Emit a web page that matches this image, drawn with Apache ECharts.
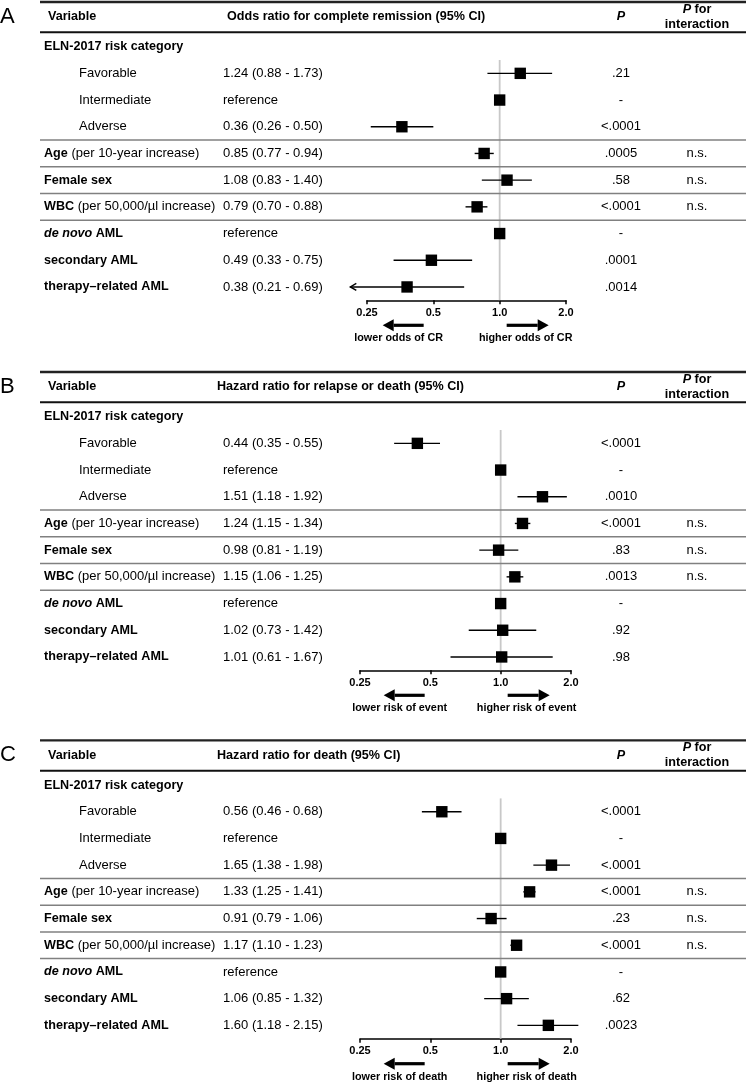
<!DOCTYPE html>
<html><head><meta charset="utf-8">
<script src="https://cdn.jsdelivr.net/npm/echarts@6/dist/echarts.min.js"></script>
<style>html,body{margin:0;padding:0;background:#fff}#c{width:746px;height:1082px}</style>
</head><body><div id="c"></div>
<script>
// ---------------- data ----------------
const rowKeys = ['eln','fav','int','adv','age','sex','wbc','denovo','sec','tr'];
const varLabels = [
  '{b|ELN-2017 risk category}',
  '{n|Favorable}',
  '{n|Intermediate}',
  '{n|Adverse}',
  '{b|Age}{n| (per 10-year increase)}',
  '{b|Female sex}',
  '{b|WBC}{n| (per 50,000/µl increase)}',
  '{bi|de novo}{b| AML}',
  '{b|secondary AML}',
  '{b|therapy–related AML}'
];
const indentedRows = [1, 2, 3];
const separatorAfterRows = [3, 4, 5, 6];

const estA  = [null, 1.24, 1.00, 0.36, 0.85, 1.08, 0.79, 1.00, 0.49, 0.38];
const lowA  = [null, 0.88, null, 0.26, 0.77, 0.83, 0.70, null, 0.33, 0.21];
const highA = [null, 1.73, null, 0.50, 0.94, 1.40, 0.88, null, 0.75, 0.69];
const pA    = ['', '.21', '-', '<.0001', '.0005', '.58', '<.0001', '-', '.0001', '.0014'];

const estB  = [null, 0.44, 1.00, 1.51, 1.24, 0.98, 1.15, 1.00, 1.02, 1.01];
const lowB  = [null, 0.35, null, 1.18, 1.15, 0.81, 1.06, null, 0.73, 0.61];
const highB = [null, 0.55, null, 1.92, 1.34, 1.19, 1.25, null, 1.42, 1.67];
const pB    = ['', '<.0001', '-', '.0010', '<.0001', '.83', '.0013', '-', '.92', '.98'];

const estC  = [null, 0.56, 1.00, 1.65, 1.33, 0.91, 1.17, 1.00, 1.06, 1.60];
const lowC  = [null, 0.46, null, 1.38, 1.25, 0.79, 1.10, null, 0.85, 1.18];
const highC = [null, 0.68, null, 1.98, 1.41, 1.06, 1.23, null, 1.32, 2.15];
const pC    = ['', '<.0001', '-', '<.0001', '<.0001', '.23', '<.0001', '-', '.62', '.0023'];

const interaction = ['', '', '', '', 'n.s.', 'n.s.', 'n.s.', '', '', ''];

const panelLetters = ['A', 'B', 'C'];
const effectHeaders = [
  'Odds ratio for complete remission (95% CI)',
  'Hazard ratio for relapse or death (95% CI)',
  'Hazard ratio for death (95% CI)'
];
const lowerLabels = ['lower odds of CR', 'lower risk of event', 'lower risk of death'];
const higherLabels = ['higher odds of CR', 'higher risk of event', 'higher risk of death'];

const tickValues = [0.25, 0.5, 1, 2];
const tickLabels = ['0.25', '0.5', '1.0', '2.0'];

// ---------------- layout ----------------
const FF = '"Liberation Sans", Arial, Helvetica, sans-serif';
const panelData = [
  {est: estA, low: lowA, high: highA, p: pA},
  {est: estB, low: lowB, high: highB, p: pB},
  {est: estC, low: lowC, high: highC, p: pC}
];
const grids = [
  {left: 367, width: 199, top: 33.3, height: 267},
  {left: 360, width: 211, top: 403.3, height: 267},
  {left: 360, width: 211, top: 771.7, height: 267}
];
const headerX = [227, 217, 217];
const X_VAR = 44, X_VAR_IND = 79, X_HEAD_VAR = 48, X_CI = 223, X_P = 621, X_INT = 697;
const LINE_L = 40, LINE_R = 746;

const RICH = {
  b:  {fontWeight: 'bold', fontSize: 12.6, fontFamily: FF, fill: '#000'},
  n:  {fontWeight: 'normal', fontSize: 13, fontFamily: FF, fill: '#000'},
  bi: {fontWeight: 'bold', fontStyle: 'italic', fontSize: 12.6, fontFamily: FF, fill: '#000'}
};

function txt(text, x, y, align, extra) {
  return {type: 'text', style: Object.assign({
    text: text, x: x, y: y, align: align || 'left', verticalAlign: 'middle',
    fontSize: 13, fontFamily: FF, fill: '#000', rich: RICH
  }, extra || {})};
}
function seg(x1, y1, x2, y2, color, w) {
  return {type: 'line', shape: {x1, y1, x2, y2}, style: {stroke: color, lineWidth: w}};
}
function fmtCI(e, l, h) {
  if (l == null) return 'reference';
  return e.toFixed(2) + ' (' + l.toFixed(2) + ' - ' + h.toFixed(2) + ')';
}

function rowRender(pi) {
  const D = panelData[pi];
  return function (params, api) {
    const i = params.dataIndex;
    const y = api.coord([1, i])[1];
    const bw = api.size([1, 1])[1];
    const ch = [];
    const indented = indentedRows.indexOf(i) >= 0;
    ch.push(txt(varLabels[i], indented ? X_VAR_IND : X_VAR, y, 'left'));
    if (D.est[i] != null) {
      ch.push(txt(fmtCI(D.est[i], D.low[i], D.high[i]), X_CI, y, 'left'));
    }
    if (D.p[i]) ch.push(txt(D.p[i], X_P, y, 'center'));
    if (interaction[i]) ch.push(txt(interaction[i], X_INT, y, 'center'));
    if (separatorAfterRows.indexOf(i) >= 0) {
      ch.push(seg(LINE_L, y + bw / 2, LINE_R, y + bw / 2, '#808080', 1.5));
    }
    if (D.low[i] != null) {
      const xl = api.coord([D.low[i], i])[0];
      const xh = api.coord([D.high[i], i])[0];
      ch.push(seg(xl, y, xh, y, '#000', 1.4));
      if (D.low[i] < tickValues[0]) {
        ch.push({type: 'polyline', shape: {points: [[xl + 6, y - 3.5], [xl, y], [xl + 6, y + 3.5]]},
                 style: {stroke: '#000', lineWidth: 1.4, fill: null}});
      }
    }
    if (D.est[i] != null) {
      const xe = api.coord([D.est[i], i])[0];
      ch.push({type: 'rect', shape: {x: xe - 5.7, y: y - 5.7, width: 11.4, height: 11.4}, style: {fill: '#000'}});
    }
    return {type: 'group', children: ch};
  };
}

function panelRender(pi) {
  return function (params, api) {
    const bw = api.size([1, 1])[1];
    const top = api.coord([1, 0])[1] - bw / 2;
    const bottom = api.coord([1, rowKeys.length - 1])[1] + bw / 2;
    const refX = api.coord([1, 0])[0];
    const hy = top - 16.4;
    const ch = [];
    // reference line at ratio 1
    ch.push(seg(refX, api.coord([1, 1])[1] - bw / 2, refX, bottom, '#c8c8c8', 1.8));
    // table rules
    ch.push(seg(LINE_L, top - 31.3, LINE_R, top - 31.3, '#222', 2.4));
    ch.push(seg(LINE_L, top - 1, LINE_R, top - 1, '#111', 2));
    // header
    ch.push(txt(panelLetters[pi], 0, hy, 'left', {fontSize: 22, fontWeight: 'normal', rich: null}));
    ch.push(txt('{b|Variable}', X_HEAD_VAR, hy, 'left'));
    ch.push(txt('{b|' + effectHeaders[pi] + '}', headerX[pi], hy, 'left'));
    ch.push(txt('{bi|P}', X_P, hy, 'center'));
    ch.push(txt('{bi|P}{b| for}', X_INT, hy - 7.3, 'center'));
    ch.push(txt('{b|interaction}', X_INT, hy + 7.3, 'center'));
    // direction arrows
    const ay = bottom + 25;
    const arrow = (tail, tip) => {
      const d = tip > tail ? 1 : -1;
      const base = tip - d * 11;
      return [
        seg(tail, ay, base, ay, '#000', 3.2),
        {type: 'polygon', shape: {points: [[tip, ay], [base, ay - 6], [base, ay + 6]]}, style: {fill: '#000'}}
      ];
    };
    ch.push(...arrow(refX - 76, refX - 117));
    ch.push(...arrow(refX + 7, refX + 49));
    const ly = bottom + 38;
    const lblStyle = {fontSize: 10.8, fontWeight: 'bold', rich: null};
    ch.push(txt(lowerLabels[pi], refX - 101, ly, 'center', lblStyle));
    ch.push(txt(higherLabels[pi], refX + 26, ly, 'center', lblStyle));
    return {type: 'group', children: ch};
  };
}

const option = {
  animation: false,
  backgroundColor: '#fff',
  grid: grids.map(g => Object.assign({containLabel: false}, g)),
  xAxis: grids.map((g, gi) => ({
    gridIndex: gi, type: 'log', logBase: 2, position: 'bottom',
    min: tickValues[0], max: tickValues[tickValues.length - 1],
    axisLine: {show: true, onZero: false, lineStyle: {color: '#000', width: 1.5}},
    axisTick: {show: true, length: 4, lineStyle: {color: '#000', width: 1.5}},
    splitLine: {show: false},
    minorTick: {show: false},
    axisLabel: {
      margin: 7, fontSize: 11, fontWeight: 'bold', fontFamily: FF, color: '#000',
      formatter: function (v) {
        let best = 0;
        tickValues.forEach((t, k) => { if (Math.abs(Math.log2(t) - Math.log2(v)) < Math.abs(Math.log2(tickValues[best]) - Math.log2(v))) best = k; });
        return tickLabels[best];
      }
    }
  })),
  yAxis: grids.map((g, gi) => ({
    gridIndex: gi, type: 'category', data: rowKeys, inverse: true,
    axisLine: {show: false}, axisTick: {show: false}, axisLabel: {show: false}, splitLine: {show: false}
  })),
  series: []
};
grids.forEach((g, gi) => {
  const D = panelData[gi];
  option.series.push({
    type: 'custom', xAxisIndex: gi, yAxisIndex: gi, z: 1, clip: false,
    renderItem: panelRender(gi), data: [[1, 0]]
  });
  option.series.push({
    type: 'custom', xAxisIndex: gi, yAxisIndex: gi, z: 3, clip: false,
    renderItem: rowRender(gi),
    data: rowKeys.map((k, i) => [D.est[i] == null ? 1 : D.est[i], i])
  });
});

const chart = echarts.init(document.getElementById('c'), null, {renderer: 'canvas'});
chart.setOption(option);
</script>
</body></html>
